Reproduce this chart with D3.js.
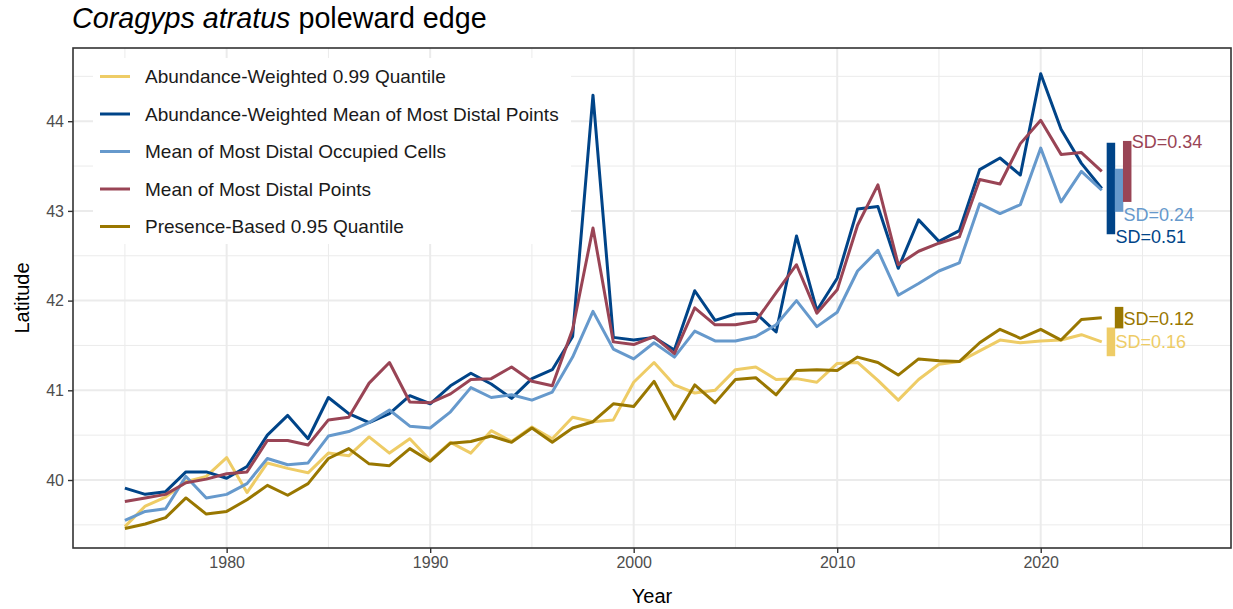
<!DOCTYPE html>
<html>
  <head>
    <script src="https://d3js.org/d3.v7.min.js"></script>
    <style>
      body { margin: 0; background: #fff; }
      text { font-family: "Liberation Sans", Arial, sans-serif; }
    </style>
  </head>
  <body>
    <script>
    // years 1975..2023
    var years = d3.range(1975, 2024);

    var seriesNames = [
      "Abundance-Weighted 0.99 Quantile",
      "Abundance-Weighted Mean of Most Distal Points",
      "Mean of Most Distal Occupied Cells",
      "Mean of Most Distal Points",
      "Presence-Based 0.95 Quantile"
    ];
    var seriesColors = ["#EECC66", "#004488", "#6699CC", "#994455", "#997700"];

    var awQuantile = [39.48, 39.71, 39.81, 39.98, 40.04, 40.25, 39.86, 40.19, 40.13, 40.08,
      40.30, 40.27, 40.48, 40.30, 40.46, 40.22, 40.42, 40.30, 40.55, 40.43,
      40.59, 40.46, 40.70, 40.65, 40.67, 41.09, 41.31, 41.06, 40.97, 41.00,
      41.23, 41.26, 41.12, 41.13, 41.09, 41.30, 41.31, 41.11, 40.89, 41.12,
      41.29, 41.32, 41.44, 41.56, 41.53, 41.55, 41.56, 41.62, 41.54];
    var awMeanDistal = [39.91, 39.84, 39.87, 40.09, 40.09, 40.02, 40.15, 40.50, 40.72, 40.46,
      40.92, 40.74, 40.64, 40.74, 40.94, 40.85, 41.05, 41.19, 41.07, 40.91,
      41.13, 41.23, 41.60, 44.29, 41.59, 41.56, 41.59, 41.45, 42.11, 41.78,
      41.85, 41.86, 41.65, 42.72, 41.89, 42.25, 43.02, 43.05, 42.36, 42.90,
      42.66, 42.78, 43.46, 43.59, 43.40, 44.53, 43.91, 43.53, 43.25];
    var meanDistalCells = [39.55, 39.65, 39.68, 40.04, 39.80, 39.84, 39.96, 40.24, 40.17, 40.19,
      40.49, 40.54, 40.64, 40.78, 40.60, 40.58, 40.76, 41.03, 40.92, 40.95,
      40.89, 40.98, 41.37, 41.88, 41.46, 41.35, 41.53, 41.37, 41.66, 41.55,
      41.55, 41.60, 41.73, 42.00, 41.71, 41.87, 42.33, 42.56, 42.06, 42.19,
      42.33, 42.42, 43.08, 42.97, 43.07, 43.70, 43.10, 43.44, 43.23];
    var meanDistalPoints = [39.76, 39.80, 39.84, 39.97, 40.01, 40.07, 40.09, 40.44, 40.44, 40.39,
      40.67, 40.70, 41.08, 41.31, 40.87, 40.86, 40.96, 41.12, 41.13, 41.26,
      41.10, 41.05, 41.68, 42.81, 41.54, 41.51, 41.60, 41.41, 41.92, 41.73,
      41.73, 41.77, 42.09, 42.40, 41.86, 42.12, 42.84, 43.29, 42.40, 42.55,
      42.64, 42.71, 43.35, 43.30, 43.75, 44.01, 43.63, 43.65, 43.44];
    var presenceQuantile = [39.46, 39.51, 39.58, 39.80, 39.62, 39.65, 39.78, 39.94, 39.83, 39.96,
      40.24, 40.35, 40.18, 40.16, 40.35, 40.21, 40.41, 40.43, 40.49, 40.42,
      40.58, 40.42, 40.58, 40.65, 40.85, 40.82, 41.10, 40.68, 41.06, 40.86,
      41.12, 41.14, 40.95, 41.22, 41.23, 41.22, 41.37, 41.31, 41.17, 41.35,
      41.33, 41.32, 41.53, 41.68, 41.58, 41.68, 41.56, 41.79, 41.81];

    // SD bars at the end of each series
    var sdValues = [0.16, 0.51, 0.24, 0.34, 0.12];
    var sdBarYear = [2023.45, 2023.45, 2023.85, 2024.25, 2023.85];
    var sdLabelLat = [41.54, 42.71, 42.96, 43.77, 41.80];

    var xTicks = [1980, 1990, 2000, 2010, 2020];
    var xMinor = [1975, 1985, 1995, 2005, 2015, 2025];
    var yTicks = [40, 41, 42, 43, 44];
    var yMinor = [39.5, 40.5, 41.5, 42.5, 43.5, 44.5];

    var allValues = [awQuantile, awMeanDistal, meanDistalCells, meanDistalPoints, presenceQuantile];

    var width = 1233, height = 609;
    var panel = {left: 73, right: 1231, top: 48, bottom: 548};

    var svg = d3.select('body').append('svg')
      .attr('width', width)
      .attr('height', height);

    var x = d3.scaleLinear().domain([1972.45, 2029.35]).range([panel.left, panel.right]);
    var y = d3.scaleLinear().domain([39.242, 44.816]).range([panel.bottom, panel.top]);

    // grid
    var grid = svg.append('g');
    grid.selectAll('.xminor').data(xMinor).enter().append('line')
      .attr('x1', d => x(d)).attr('x2', d => x(d))
      .attr('y1', panel.top).attr('y2', panel.bottom)
      .attr('stroke', '#ebebeb').attr('stroke-width', 1);
    grid.selectAll('.yminor').data(yMinor).enter().append('line')
      .attr('y1', d => y(d)).attr('y2', d => y(d))
      .attr('x1', panel.left).attr('x2', panel.right)
      .attr('stroke', '#ebebeb').attr('stroke-width', 1);
    grid.selectAll('.xmajor').data(xTicks).enter().append('line')
      .attr('x1', d => x(d)).attr('x2', d => x(d))
      .attr('y1', panel.top).attr('y2', panel.bottom)
      .attr('stroke', '#ebebeb').attr('stroke-width', 2);
    grid.selectAll('.ymajor').data(yTicks).enter().append('line')
      .attr('y1', d => y(d)).attr('y2', d => y(d))
      .attr('x1', panel.left).attr('x2', panel.right)
      .attr('stroke', '#ebebeb').attr('stroke-width', 2);

    // legend (drawn under the lines so the 1998 spike stays visible)
    var legend = svg.append('g');
    legend.append('rect')
      .attr('x', 93).attr('y', 58).attr('width', 478).attr('height', 186)
      .attr('fill', '#fff');
    var rows = legend.selectAll('.row').data(seriesNames).enter().append('g')
      .attr('transform', (d, i) => 'translate(0,' + (76.5 + i * 37.5) + ')');
    rows.append('line')
      .attr('x1', 100).attr('x2', 130)
      .attr('stroke', (d, i) => seriesColors[i])
      .attr('stroke-width', 3);
    rows.append('text')
      .attr('x', 145).attr('dy', '0.35em')
      .style('font-size', '19px')
      .attr('fill', '#1a1a1a')
      .text(d => d);

    // lines
    var line = d3.line()
      .x((d, i) => x(years[i]))
      .y(d => y(d));

    svg.selectAll('.series').data(allValues).enter().append('path')
      .attr('d', d => line(d))
      .attr('fill', 'none')
      .attr('stroke', (d, i) => seriesColors[i])
      .attr('stroke-width', 3)
      .attr('stroke-linejoin', 'round');

    // SD bars
    var sdData = allValues.map(function(v, i) {
      return {last: v[v.length - 1], sd: sdValues[i], yr: sdBarYear[i], lab: sdLabelLat[i], col: seriesColors[i]};
    });
    svg.selectAll('.sdbar').data(sdData).enter().append('line')
      .attr('x1', d => x(d.yr)).attr('x2', d => x(d.yr))
      .attr('y1', d => y(d.last + d.sd)).attr('y2', d => y(d.last - d.sd))
      .attr('stroke', d => d.col)
      .attr('stroke-width', 8.5);
    svg.selectAll('.sdlab').data(sdData).enter().append('text')
      .attr('x', d => x(d.yr) + 4.5)
      .attr('y', d => y(d.lab))
      .attr('dy', '0.35em')
      .attr('fill', d => d.col)
      .style('font-size', '18px')
      .text(d => 'SD=' + d.sd.toFixed(2));

    // panel border
    svg.append('rect')
      .attr('x', panel.left).attr('y', panel.top)
      .attr('width', panel.right - panel.left).attr('height', panel.bottom - panel.top)
      .attr('fill', 'none').attr('stroke', '#333333').attr('stroke-width', 1.6);

    // axes
    var xAxis = svg.append('g')
      .attr('transform', 'translate(0,' + panel.bottom + ')')
      .call(d3.axisBottom(x).tickValues(xTicks).tickFormat(d3.format('d')).tickSizeOuter(0).tickSize(5).tickPadding(4));
    var yAxis = svg.append('g')
      .attr('transform', 'translate(' + panel.left + ',0)')
      .call(d3.axisLeft(y).tickValues(yTicks).tickFormat(d3.format('d')).tickSizeOuter(0).tickSize(5).tickPadding(4));
    [xAxis, yAxis].forEach(function(a) {
      a.select('.domain').remove();
      a.selectAll('.tick line').attr('stroke', '#333333').attr('stroke-width', 1.4);
      a.selectAll('.tick text').attr('fill', '#4d4d4d')
        .style('font-size', '16px')
        .style('font-family', '"Liberation Sans", Arial, sans-serif');
    });

    // titles
    var title = svg.append('text')
      .attr('x', 72).attr('y', 28)
      .style('font-size', '28.7px')
      .attr('fill', '#000');
    title.append('tspan').style('font-style', 'italic').text('Coragyps atratus');
    title.append('tspan').text(' poleward edge');

    svg.append('text')
      .attr('x', (panel.left + panel.right) / 2).attr('y', 603)
      .attr('text-anchor', 'middle')
      .style('font-size', '20px')
      .text('Year');

    svg.append('text')
      .attr('transform', 'translate(29,' + ((panel.top + panel.bottom) / 2) + ') rotate(-90)')
      .attr('text-anchor', 'middle')
      .style('font-size', '20px')
      .text('Latitude');
    </script>
  </body>
</html>
